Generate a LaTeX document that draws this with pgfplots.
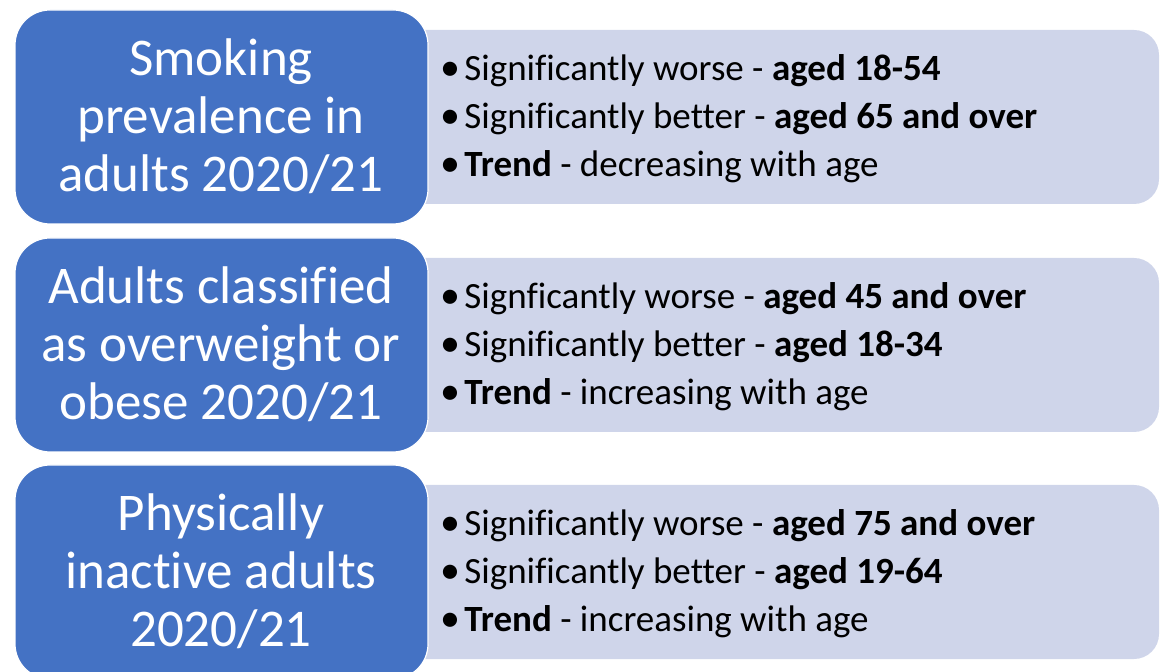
\documentclass[border=0pt]{standalone}
\usepackage{pgfplots}
\pgfplotsset{compat=1.18}
\usepackage{fontspec}
\setmainfont[Ligatures={NoCommon}]{Carlito}
\definecolor{dblue}{HTML}{4472C4}
\definecolor{lblue}{HTML}{CFD5EA}
\newcommand{\bl}{\makebox[12pt][l]{\fontsize{20}{24}\selectfont\textbullet}}
\begin{document}
\begin{tikzpicture}
\begin{axis}[name=ax, x=0.5pt, y=0.5pt, xmin=0, xmax=1160, ymin=0, ymax=672,
  y dir=reverse, hide axis, clip=true]
\addplot[draw=none] coordinates {(0,0) (1160,672)};
% light boxes
\foreach \t in {0,228,455}{
  \edef\temp{\noexpand\fill[lblue, rounded corners=12.5pt] (axis cs:400,30+\t) rectangle (axis cs:1159,204+\t);}
  \temp
}
% blue boxes
\foreach \t in {0,228,455}{
  \edef\temp{\noexpand\filldraw[fill=dblue, draw=white, line width=0.6pt, rounded corners=17.5pt] (axis cs:15,10+\t) rectangle (axis cs:428,224+\t);}
  \temp
}
\node[white, align=center, font=\fontsize{26.5}{29}\selectfont, inner sep=0pt] at (axis cs:221,116)
  {Smoking\\prevalence in\\adults 2020/21};
\node[white, align=center, font=\fontsize{26.5}{29}\selectfont, inner sep=0pt] at (axis cs:221,344)
  {Adults classified\\as overweight or\\obese 2020/21};
\node[white, align=center, font=\fontsize{26.5}{29}\selectfont, inner sep=0pt] at (axis cs:221,571)
  {Physically\\inactive adults\\2020/21};
\node[black, align=left, anchor=west, font=\fontsize{18.5}{24}\selectfont, inner sep=0pt] at (axis cs:440,119)
  {\bl Significantly worse - \textbf{aged 18-54}\\
   \bl Significantly better - \textbf{aged 65 and over}\\
   \bl \textbf{Trend} - decreasing with age};
\node[black, align=left, anchor=west, font=\fontsize{18.5}{24}\selectfont, inner sep=0pt] at (axis cs:440,347)
  {\bl Signficantly worse - \textbf{aged 45 and over}\\
   \bl Significantly better - \textbf{aged 18-34}\\
   \bl \textbf{Trend} - increasing with age};
\node[black, align=left, anchor=west, font=\fontsize{18.5}{24}\selectfont, inner sep=0pt] at (axis cs:440,574)
  {\bl Significantly worse - \textbf{aged 75 and over}\\
   \bl Significantly better - \textbf{aged 19-64}\\
   \bl \textbf{Trend} - increasing with age};
\end{axis}
\pgfresetboundingbox
\path (ax.south west) rectangle (ax.north east);
\end{tikzpicture}
\end{document}
